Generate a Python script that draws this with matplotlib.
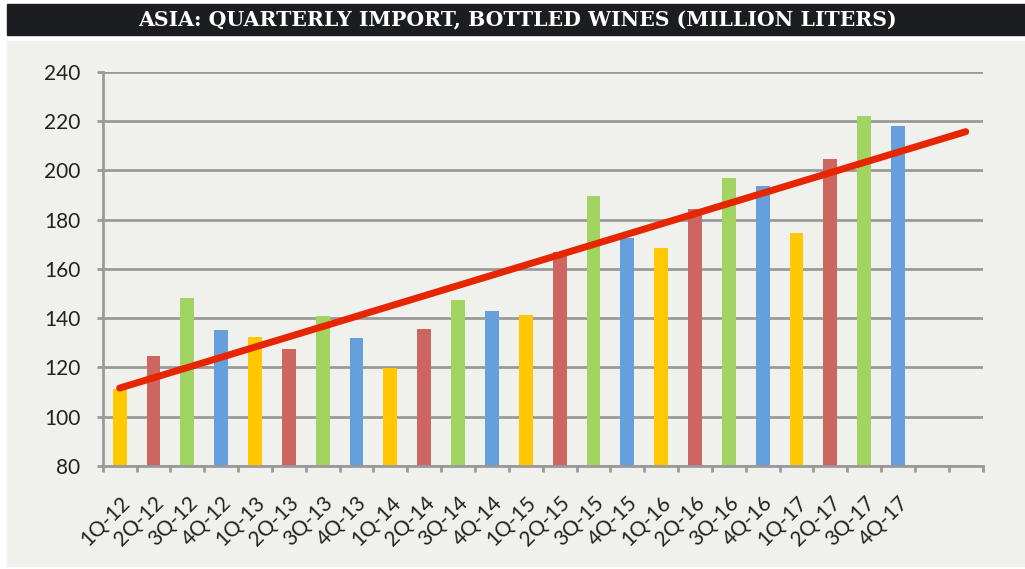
import matplotlib.pyplot as plt
import numpy as np

# Data
quarters = ['1Q-12', '2Q-12', '3Q-12', '4Q-12', '1Q-13', '2Q-13', '3Q-13', '4Q-13',
            '1Q-14', '2Q-14', '3Q-14', '4Q-14', '1Q-15', '2Q-15', '3Q-15', '4Q-15',
            '1Q-16', '2Q-16', '3Q-16', '4Q-16', '1Q-17', '2Q-17', '3Q-17', '4Q-17']
imports = [111.1, 124.5, 148.0, 135.0, 132.3, 127.3, 140.8, 131.8,
           119.6, 135.7, 147.2, 142.8, 141.1, 166.9, 189.4, 172.4,
           168.3, 184.1, 196.8, 193.5, 174.5, 204.5, 222.0, 218.0]
forecast_periods = 2
y_ticks = [80, 100, 120, 140, 160, 180, 200, 220, 240]

title = 'ASIA: QUARTERLY IMPORT, BOTTLED WINES (MILLION LITERS)'

quarter_colors = ['#ffc800', '#cd6660', '#a2d461', '#66a0dc']
bg = '#f0f0ec'
grid_col = '#9a9a9a'

fig = plt.figure(figsize=(10.25, 5.69), dpi=100)
fig.patch.set_facecolor('white')

# light panel behind chart and black title band
fig.patches.append(plt.Rectangle((7 / 1025, 0.005), 1, (569 - 41 - 3) / 569,
                                 transform=fig.transFigure, color=bg, zorder=-5))
fig.patches.append(plt.Rectangle((7 / 1025, 1 - 35 / 569), 1, 31 / 569,
                                 transform=fig.transFigure, color='#1c1d20', zorder=-5))
fig.text(0.505, 1 - 20 / 569, title, color='white', ha='center', va='center',
         fontsize=14.7, fontweight='bold', family='DejaVu Serif')

ax = fig.add_axes([102.7 / 1025, 1 - 466 / 569, 880 / 1025, 394.3 / 569])
ax.set_facecolor('none')

x = np.arange(len(quarters))
colors = [quarter_colors[i % 4] for i in range(len(quarters))]
ax.bar(x, imports, width=0.41, color=colors, zorder=2, bottom=0)

# linear trendline, extended two quarters forward
slope, intercept = np.polyfit(x, imports, 1)
xt = np.array([0, len(quarters) - 1 + forecast_periods])
ax.plot(xt, slope * xt + intercept, color='#e62600', lw=5, solid_capstyle='round', zorder=3)

n_slots = len(quarters) + forecast_periods
ax.set_xlim(-0.5, n_slots - 0.5)
ax.set_ylim(80, 240)
ax.set_yticks(y_ticks)
ax.set_yticklabels([str(v) for v in y_ticks], fontsize=15, family='Lato', color='#222222')
ax.yaxis.grid(True, color=grid_col, lw=2, zorder=1)

ax.set_xticks(x)
ax.set_xticklabels(quarters, rotation=45, ha='right', va='top', rotation_mode='anchor',
                   fontsize=15, family='Lato', color='#222222')
ax.set_xticks(np.arange(n_slots + 1) - 0.5, minor=True)
ax.tick_params(axis='x', which='major', length=0, pad=19)
ax.tick_params(axis='x', which='minor', length=4, width=2, color=grid_col)
ax.tick_params(axis='y', length=4, width=2, color=grid_col, pad=12)

for side in ['top', 'right']:
    ax.spines[side].set_visible(False)
for side in ['left', 'bottom']:
    ax.spines[side].set_color(grid_col)
    ax.spines[side].set_linewidth(2)

fig.savefig('out.png', dpi=100, facecolor=fig.get_facecolor())
